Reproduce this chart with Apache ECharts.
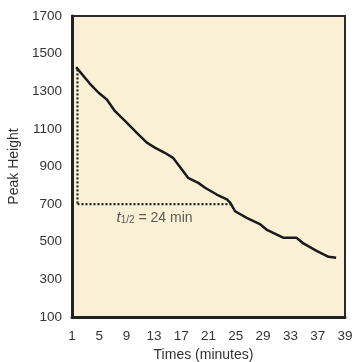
<!DOCTYPE html>
<html>
<head>
<meta charset="utf-8">
<script src="https://cdn.jsdelivr.net/npm/echarts@6/dist/echarts.min.js"></script>
<style>html,body{margin:0;padding:0;background:#fff}#c{width:353px;height:362px}</style>
</head>
<body>
<div id="c"></div>
<script>
// Data
var times = [1.6, 3.6, 4.9, 6.1, 7.3, 8.8, 10.5, 12.0, 13.2, 14.6, 15.8, 17.1, 18.0, 19.5, 20.5, 22.2, 23.7, 24.2, 24.9, 26.6, 28.6, 29.5, 32.0, 33.9, 34.9, 36.9, 38.6, 39.7];
var peakHeights = [1428, 1341, 1292, 1256, 1194, 1141, 1079, 1026, 999, 973, 946, 884, 840, 813, 787, 751, 725, 707, 662, 627, 592, 565, 521, 521, 491, 450, 420, 415];
var halfLifeTime = [1.8, 24.2];
var halfLifeValue = [1416, 700];
var xTickValues = [1, 5, 9, 13, 17, 21, 25, 29, 33, 37, 41];
var xTickLabels = ['1', '5', '9', '13', '17', '21', '25', '29', '33', '37', '39'];
var yTickValues = [100, 300, 500, 700, 900, 1100, 1300, 1500, 1700];
var yTickLabels = ['100', '300', '500', '700', '900', '1100', '1300', '1500', '1700'];

var lineData = times.map(function (t, i) { return [t, peakHeights[i]]; });
var vDotted = [[halfLifeTime[0], halfLifeValue[0]], [halfLifeTime[0], halfLifeValue[1]]];
var hDotted = [[halfLifeTime[0], halfLifeValue[1]], [halfLifeTime[1], halfLifeValue[1]]];

var chart = echarts.init(document.getElementById('c'));
var font = '"Liberation Sans", Arial, sans-serif';
chart.setOption({
  animation: false,
  backgroundColor: '#ffffff',
  grid: {
    left: 72, right: 8, top: 16, bottom: 45,
    outerBoundsMode: 'none', containLabel: false,
    show: true, backgroundColor: '#F9F0D6', borderColor: '#2b2b2b', borderWidth: 2
  },
  xAxis: {
    type: 'value', min: 1, max: 41,
    name: 'Times (minutes)', nameLocation: 'middle', nameGap: 31,
    nameTextStyle: { fontFamily: font, fontSize: 14, color: '#333', padding: [0, 10, 0, 0] },
    axisLine: { show: true, lineStyle: { color: '#222', width: 3 } },
    axisTick: { show: false },
    splitLine: { show: false },
    axisLabel: {
      customValues: xTickValues, margin: 12,
      fontFamily: font, fontSize: 13.5, color: '#333',
      formatter: function (v) { var i = xTickValues.indexOf(v); return i >= 0 ? xTickLabels[i] : ''; }
    }
  },
  yAxis: {
    type: 'value', min: 100, max: 1700,
    name: 'Peak Height', nameLocation: 'middle', nameGap: 42,
    nameTextStyle: { fontFamily: font, fontSize: 14, color: '#333' },
    axisLine: { show: true, lineStyle: { color: '#222', width: 3 } },
    axisTick: { show: false },
    splitLine: { show: false },
    axisLabel: {
      customValues: yTickValues, margin: 10,
      fontFamily: font, fontSize: 13.5, color: '#333',
      formatter: function (v) { var i = yTickValues.indexOf(v); return i >= 0 ? yTickLabels[i] : ''; }
    }
  },
  series: [
    {
      type: 'line', data: lineData, showSymbol: false, smooth: false,
      lineStyle: { color: '#1a1a1a', width: 2.5 }
    },
    {
      type: 'line', data: vDotted, showSymbol: false,
      lineStyle: { color: '#222', width: 2.2, type: [2, 2] }
    },
    {
      type: 'line', data: hDotted, showSymbol: false,
      lineStyle: { color: '#222', width: 2.2, type: [2, 2] }
    },
    {
      type: 'scatter', symbolSize: 0, silent: true,
      data: [[13.1, 625]],
      label: {
        show: true, position: 'inside',
        formatter: '{it|t}{sub|1/2}{n| = 24 min}',
        rich: {
          it: { fontFamily: font, fontStyle: 'italic', fontSize: 15, color: '#333' },
          sub: { fontFamily: font, fontSize: 10, color: '#333', verticalAlign: 'bottom' },
          n: { fontFamily: font, fontSize: 14, color: '#333' }
        }
      }
    }
  ]
});
</script>
</body>
</html>
